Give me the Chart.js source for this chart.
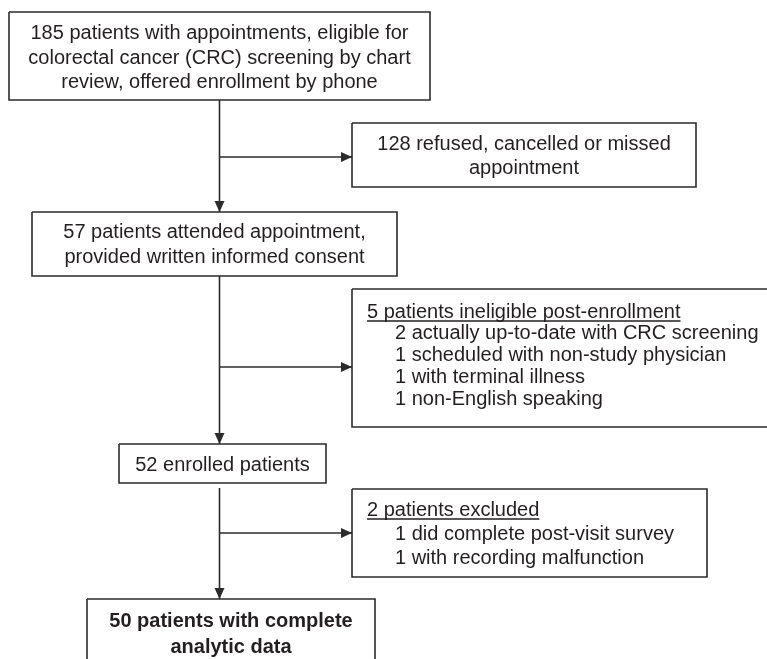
<!DOCTYPE html>
<html>
<head>
<meta charset="utf-8">
<script src="https://cdn.jsdelivr.net/npm/chart.js@4"></script>
<style>
  html, body { margin: 0; padding: 0; background: #fff; }
  canvas { display: block; }
</style>
</head>
<body>
<canvas id="flow" width="767" height="659"></canvas>
<script>
// patient counts at each step of the flow
const stepCounts = [185, 128, 57, 5, 52, 2, 50];

const boxText = [
  ["185 patients with appointments, eligible for", "colorectal cancer (CRC) screening by chart", "review, offered enrollment by phone"],
  ["128 refused, cancelled or missed", "appointment"],
  ["57 patients attended appointment,", "provided written informed consent"],
  ["5 patients ineligible post-enrollment", "2 actually up-to-date with CRC screening", "1 scheduled with non-study physician", "1 with terminal illness", "1 non-English speaking"],
  ["52 enrolled patients"],
  ["2 patients excluded", "1 did complete post-visit survey", "1 with recording malfunction"],
  ["50 patients with complete", "analytic data"],
];
const boxKind = ["center", "center", "center", "list", "center", "list", "bold"];

// box edges in diagram units (x to the right, y downward)
const boxLeft = [9, 352, 32, 352, 119, 352, 87];
const boxRight = [430, 696, 397, 780, 326, 707, 375];
const boxTop = [12, 123, 212, 289, 444, 489, 599];
const boxBottom = [100, 187, 276, 427, 483, 577, 690];
const firstLineY = [33.5, 144.5, 232.5, 312, 465, 510, 621];
const lineGap = [24.5, 24, 25, 21.8, 0, 24, 26];

// connectors, each ends with an arrow head
const linkFromX = [219.5, 219.5, 219.5, 219.5, 219.5, 219.5];
const linkFromY = [100, 157, 276, 367, 488, 533];
const linkToX = [219.5, 352, 219.5, 352, 219.5, 352];
const linkToY = [212, 157, 444, 367, 599, 533];

const ink = "#2b2b2b";
const font = "'Liberation Sans', Arial, Helvetica, sans-serif";

const datasets = [];
boxLeft.forEach((x0, i) => {
  const x1 = boxRight[i], y0 = boxTop[i], y1 = boxBottom[i];
  datasets.push({
    data: [{ x: x0, y: y0 }, { x: x1, y: y0 }, { x: x1, y: y1 }, { x: x0, y: y1 }, { x: x0, y: y0 }],
    showLine: true,
    borderColor: ink,
    borderWidth: 1.6,
    pointRadius: 0,
    tension: 0,
  });
});
linkFromX.forEach((x, i) => {
  datasets.push({
    data: [{ x: x, y: linkFromY[i] }, { x: linkToX[i], y: linkToY[i] }],
    showLine: true,
    borderColor: ink,
    borderWidth: 1.6,
    pointRadius: 0,
    isLink: true,
  });
});

const flowExtras = {
  id: "flowExtras",
  afterDatasetsDraw(chart) {
    const { ctx, scales } = chart;
    const px = (v) => scales.x.getPixelForValue(v);
    const py = (v) => scales.y.getPixelForValue(v);
    ctx.save();

    // arrow heads
    ctx.fillStyle = ink;
    linkFromX.forEach((x, i) => {
      const tx = px(linkToX[i]), ty = py(linkToY[i]);
      const ang = Math.atan2(ty - py(linkFromY[i]), tx - px(x));
      const len = 11, half = 5;
      ctx.beginPath();
      ctx.moveTo(tx, ty);
      ctx.lineTo(tx - len * Math.cos(ang) + half * Math.sin(ang), ty - len * Math.sin(ang) - half * Math.cos(ang));
      ctx.lineTo(tx - len * Math.cos(ang) - half * Math.sin(ang), ty - len * Math.sin(ang) + half * Math.cos(ang));
      ctx.closePath();
      ctx.fill();
    });

    // box texts
    ctx.fillStyle = "#231f20";
    ctx.strokeStyle = "#231f20";
    ctx.textBaseline = "middle";
    boxText.forEach((lines, i) => {
      const kind = boxKind[i];
      ctx.font = (kind === "bold" ? "bold " : "") + "20px " + font;
      lines.forEach((t, j) => {
        const y = py(firstLineY[i] + j * lineGap[i]);
        if (kind === "list") {
          ctx.textAlign = "left";
          const x = px(boxLeft[i] + (j === 0 ? 15 : 43));
          ctx.fillText(t, x, y);
          if (j === 0) {
            const w = ctx.measureText(t).width;
            ctx.lineWidth = 1.4;
            ctx.beginPath();
            ctx.moveTo(x, y + 9);
            ctx.lineTo(x + w, y + 9);
            ctx.stroke();
          }
        } else {
          ctx.textAlign = "center";
          ctx.fillText(t, px((boxLeft[i] + boxRight[i]) / 2), y);
        }
      });
    });
    ctx.restore();
  },
};

new Chart(document.getElementById("flow"), {
  type: "scatter",
  data: { datasets },
  options: {
    responsive: false,
    animation: false,
    layout: { padding: 0 },
    scales: {
      x: { type: "linear", display: false, min: 0, max: 767 },
      y: { type: "linear", display: false, min: 0, max: 659, reverse: true },
    },
    plugins: { legend: { display: false }, tooltip: { enabled: false } },
  },
  plugins: [flowExtras],
});
</script>
</body>
</html>
